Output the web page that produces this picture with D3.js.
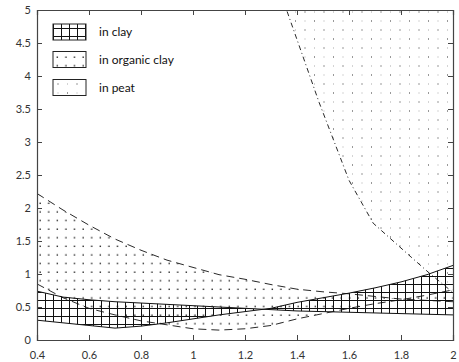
<!DOCTYPE html>
<html><head><meta charset="utf-8">
<script src="https://cdn.jsdelivr.net/npm/d3@7"></script>
<style>
html,body{margin:0;padding:0;background:#fff;}
text{font-family:Lato,"Open Sans",sans-serif;}
</style>
</head><body>
<svg id="chart" width="459" height="362"></svg>
<script>
// ---- data ----
const xVals = [0.4,0.5,0.6,0.7,0.8,0.9,1.0,1.1,1.2,1.3,1.4,1.5,1.6,1.7,1.8,1.9,2.0];
const clayA = [0.74,0.65,0.61,0.58,0.56,0.54,0.52,0.50,0.48,0.46,0.44,0.43,0.42,0.41,0.40,0.39,0.38];
const clayB = [0.30,0.26,0.22,0.18,0.21,0.26,0.32,0.38,0.43,0.48,0.57,0.64,0.71,0.79,0.88,0.99,1.13];
const orgUpper = [2.22,1.97,1.74,1.53,1.36,1.21,1.10,0.99,0.92,0.84,0.77,0.73,0.70,0.66,0.62,0.60,0.58];
const orgLower = [0.85,0.64,0.48,0.38,0.29,0.23,0.17,0.15,0.17,0.22,0.32,0.40,0.48,0.55,0.61,0.68,0.76];
const peatX = [1.33,1.36,1.485,1.6,1.693,1.835,1.91,2.0];
const peatY = [5.32,5.0,3.60,2.42,1.77,1.27,1.01,0.72];
const xTicks = [0.4,0.6,0.8,1,1.2,1.4,1.6,1.8,2];
const yTicks = [0,0.5,1,1.5,2,2.5,3,3.5,4,4.5,5];
const legendLabels = ["in clay","in organic clay","in peat"];

(function(){
// ---- layout ----
const L = 37, R = 453, T = 10, B = 340;
const x = d3.scaleLinear().domain([0.4,2]).range([L,R]);
const y = d3.scaleLinear().domain([0,5]).range([B,T]);
const svg = d3.select("#chart");
const defs = svg.append("defs");

// patterns
const pg = defs.append("pattern").attr("id","grid").attr("patternUnits","userSpaceOnUse")
  .attr("width",8).attr("height",8).attr("x",L).attr("y",B);
pg.append("path").attr("d","M0.5,0V8M0,0.5H8").attr("stroke","#111").attr("stroke-width",1).attr("fill","none");

const po = defs.append("pattern").attr("id","odots").attr("patternUnits","userSpaceOnUse")
  .attr("width",8.6).attr("height",8.6).attr("x",L+1).attr("y",T+2);
po.append("rect").attr("x",1.5).attr("y",1.5).attr("width",1.3).attr("height",1.3).attr("fill","#000");

const pp = defs.append("pattern").attr("id","pdots").attr("patternUnits","userSpaceOnUse")
  .attr("width",19).attr("height",18).attr("x",L).attr("y",T);
[[2,2,"#333"],[11.5,2,"#aaa"],[2,11,"#aaa"],[11.5,11,"#333"]].forEach(d=>{
  pp.append("rect").attr("x",d[0]-0.5).attr("y",d[1]-0.5).attr("width",1).attr("height",1).attr("fill",d[2]);
});

defs.append("clipPath").attr("id","clip").append("rect")
  .attr("x",L).attr("y",T).attr("width",R-L).attr("height",B-T);

const g = svg.append("g").attr("clip-path","url(#clip)");
const idx = d3.range(xVals.length);

// peat area
const peatIdx = d3.range(peatX.length);
g.append("path").datum(peatIdx)
  .attr("d", d3.area().x(i=>x(peatX[i])).y0(i=>y(peatY[i])).y1(()=>y(5.5)))
  .attr("fill","url(#pdots)");

// organic clay area
g.append("path").datum(idx)
  .attr("d", d3.area().x(i=>x(xVals[i])).y0(i=>y(orgLower[i])).y1(i=>y(orgUpper[i])))
  .attr("fill","url(#odots)");

// clay area
g.append("path").datum(idx)
  .attr("d", d3.area().x(i=>x(xVals[i])).y0(i=>y(clayA[i])).y1(i=>y(clayB[i])))
  .attr("fill","url(#grid)");

const line = (arrX, arrY) => d3.line().x(i=>x(arrX[i])).y(i=>y(arrY[i]));
g.append("path").datum(idx).attr("d", line(xVals, clayA)).attr("fill","none").attr("stroke","#111").attr("stroke-width",1);
g.append("path").datum(idx).attr("d", line(xVals, clayB)).attr("fill","none").attr("stroke","#111").attr("stroke-width",1);
g.append("path").datum(idx).attr("d", line(xVals, orgUpper)).attr("fill","none").attr("stroke","#111").attr("stroke-width",0.9).attr("stroke-dasharray","8,5");
g.append("path").datum(idx).attr("d", line(xVals, orgLower)).attr("fill","none").attr("stroke","#111").attr("stroke-width",0.9).attr("stroke-dasharray","8,5");
g.append("path").datum(peatIdx).attr("d", line(peatX, peatY)).attr("fill","none").attr("stroke","#111").attr("stroke-width",0.9).attr("stroke-dasharray","5,3,1,3");

// axes
const axCol = "#444";
const axB = svg.append("g").attr("transform",`translate(0,${B})`)
  .call(d3.axisBottom(x).tickValues(xTicks).tickSize(-5).tickPadding(11).tickFormat(d3.format("~g")));
const axT = svg.append("g").attr("transform",`translate(0,${T})`)
  .call(d3.axisTop(x).tickValues(xTicks).tickSize(-5).tickFormat(""));
const axL = svg.append("g").attr("transform",`translate(${L},0)`)
  .call(d3.axisLeft(y).tickValues(yTicks).tickSize(-5).tickPadding(6).tickFormat(d3.format("~g")));
const axR = svg.append("g").attr("transform",`translate(${R},0)`)
  .call(d3.axisRight(y).tickValues(yTicks).tickSize(-5).tickFormat(""));
[axB,axT,axL,axR].forEach(a=>{
  a.select(".domain").attr("stroke",axCol).attr("stroke-width",1.2);
  a.selectAll(".tick line").attr("stroke",axCol);
  a.selectAll("text").attr("fill","#333").style("font-size","11px").style("font-family","Lato, sans-serif");
});

// legend
const lg = svg.append("g");
const fills = ["url(#grid)","url(#odots)","url(#pdots)"];
const legY = [24,51.5,79.5];
legendLabels.forEach((lab,i)=>{
  lg.append("rect").attr("x",53).attr("y",legY[i]).attr("width",33).attr("height",16)
    .attr("fill",fills[i]).attr("stroke","#222").attr("stroke-width",1);
  lg.append("text").attr("x",99).attr("y",legY[i]+8).attr("dy","0.35em")
    .attr("fill","#111").style("font-size","12px").text(lab);
});
})();
</script>
</body></html>
